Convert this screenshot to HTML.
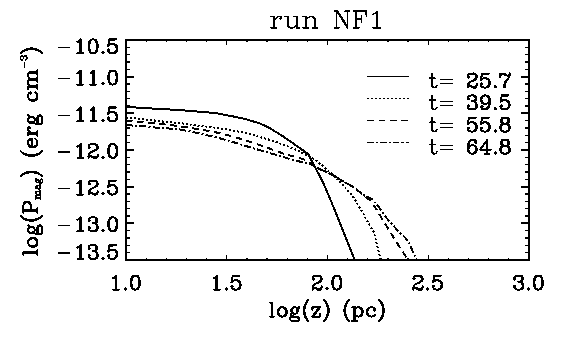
<!DOCTYPE html>
<html><head><meta charset="utf-8"><title>run NF1</title>
<style>html,body{margin:0;padding:0;background:#fff;font-family:"Liberation Sans",sans-serif}svg{display:block}</style>
</head><body>
<svg width="566" height="340" viewBox="0 0 566 340">
<rect x="0" y="0" width="566" height="340" fill="#fff"/>
<rect x="126.0" y="40.0" width="403.0" height="220.0" fill="none" stroke="#000" stroke-width="2.0" shape-rendering="crispEdges"/>
<path d="M146.15 260.0V258.00M146.15 40.0V42.00M166.30 260.0V258.00M166.30 40.0V42.00M186.45 260.0V258.00M186.45 40.0V42.00M206.60 260.0V258.00M206.60 40.0V42.00M226.75 260.0V255.00M226.75 40.0V45.00M246.90 260.0V258.00M246.90 40.0V42.00M267.05 260.0V258.00M267.05 40.0V42.00M287.20 260.0V258.00M287.20 40.0V42.00M307.35 260.0V258.00M307.35 40.0V42.00M327.50 260.0V255.00M327.50 40.0V45.00M347.65 260.0V258.00M347.65 40.0V42.00M367.80 260.0V258.00M367.80 40.0V42.00M387.95 260.0V258.00M387.95 40.0V42.00M408.10 260.0V258.00M408.10 40.0V42.00M428.25 260.0V255.00M428.25 40.0V45.00M448.40 260.0V258.00M448.40 40.0V42.00M468.55 260.0V258.00M468.55 40.0V42.00M488.70 260.0V258.00M488.70 40.0V42.00M508.85 260.0V258.00M508.85 40.0V42.00" stroke="#000" stroke-width="1.25" fill="none" shape-rendering="crispEdges"/>
<path d="M126.0 76.67H134.00M529.0 76.67H521.00M126.0 113.33H134.00M529.0 113.33H521.00M126.0 150.00H134.00M529.0 150.00H521.00M126.0 186.67H134.00M529.0 186.67H521.00M126.0 223.33H134.00M529.0 223.33H521.00" stroke="#000" stroke-width="2.0" fill="none" shape-rendering="crispEdges"/>
<path d="M126.0 47.33H130.00M529.0 47.33H525.00M126.0 54.67H130.00M529.0 54.67H525.00M126.0 62.00H130.00M529.0 62.00H525.00M126.0 69.33H130.00M529.0 69.33H525.00M126.0 84.00H130.00M529.0 84.00H525.00M126.0 91.33H130.00M529.0 91.33H525.00M126.0 98.67H130.00M529.0 98.67H525.00M126.0 106.00H130.00M529.0 106.00H525.00M126.0 120.67H130.00M529.0 120.67H525.00M126.0 128.00H130.00M529.0 128.00H525.00M126.0 135.33H130.00M529.0 135.33H525.00M126.0 142.67H130.00M529.0 142.67H525.00M126.0 157.33H130.00M529.0 157.33H525.00M126.0 164.67H130.00M529.0 164.67H525.00M126.0 172.00H130.00M529.0 172.00H525.00M126.0 179.33H130.00M529.0 179.33H525.00M126.0 194.00H130.00M529.0 194.00H525.00M126.0 201.33H130.00M529.0 201.33H525.00M126.0 208.67H130.00M529.0 208.67H525.00M126.0 216.00H130.00M529.0 216.00H525.00M126.0 230.67H130.00M529.0 230.67H525.00M126.0 238.00H130.00M529.0 238.00H525.00M126.0 245.33H130.00M529.0 245.33H525.00M126.0 252.67H130.00M529.0 252.67H525.00" stroke="#000" stroke-width="1.3" fill="none" shape-rendering="crispEdges"/>
<clipPath id="c"><rect x="126.0" y="40.0" width="403.0" height="220.0"/></clipPath>
<g clip-path="url(#c)" fill="none" stroke="#000" stroke-width="2.0" stroke-linejoin="round" shape-rendering="crispEdges">
<path d="M126.0 106.9L151.8 108.5L180.0 110.1L200.0 111.8L215.0 113.0L230.0 115.8L245.0 118.9L260.0 123.5L267.6 126.9L282.4 135.9L298.3 147.0L303.2 150.5L308.5 154.1L311.8 161.0L314.8 166.4L320.0 176.7L324.4 185.5L330.6 200.0L354.8 260.0"/>
<path d="M126.0 117.5L130.0 117.8L149.7 119.9L165.6 121.9L180.0 123.1L200.0 125.9L210.0 127.0L230.0 129.8L245.0 133.0L255.9 135.9L270.7 140.1L285.6 145.4L297.2 150.2L310.6 157.0L317.0 161.1L323.3 166.4L328.6 171.2L335.0 176.8L340.7 183.0L346.0 188.5L351.8 194.7L355.9 201.4L362.3 212.0L366.0 218.9L370.1 225.9L373.9 232.3L375.6 239.5L377.7 248.0L380.4 258.1L380.9 260.0" stroke-dasharray="2 2"/>
<path d="M126.0 120.7L140.1 121.9L150.7 122.8L162.4 124.2L174.4 125.6L190.0 127.8L207.0 130.6L219.0 133.0L229.0 135.5L241.6 139.1L251.1 142.3L261.7 145.8L272.3 149.5L283.4 153.6L293.8 156.5L304.5 159.6L314.8 166.4L320.1 169.4L325.4 171.4L335.5 176.6L342.3 180.9L352.9 186.7L363.7 195.2L370.7 200.9L377.6 211.2L382.9 220.3L389.5 230.8L395.6 240.7L401.6 250.1L406.9 258.1L408.2 260.0" stroke-dasharray="6.5 4.6"/>
<path d="M126.0 125.2L141.2 126.0L153.9 127.4L167.7 128.4L180.7 129.6L192.0 131.8L205.0 134.7L217.0 137.6L229.0 140.8L242.1 144.9L253.8 148.4L265.4 151.8L278.2 155.5L290.6 159.2L302.8 162.4L309.7 164.0L314.8 166.4L320.1 169.4L325.4 171.4L335.5 176.6L342.3 180.9L352.9 186.7L363.7 195.2L371.8 198.8L378.2 206.2L382.4 212.3L386.0 217.4L394.0 226.4L398.8 231.7L404.0 236.5L407.9 240.6L410.6 246.4L413.2 252.3L415.9 258.1L416.8 260.0" stroke-dasharray="7 2.2 2 2.2"/>
</g>
<g fill="none" stroke="#000" stroke-width="1" shape-rendering="crispEdges">
<path d="M367 76.5H409"/>
<path d="M367 98.5H409" stroke-dasharray="2 2"/>
<path d="M367 120.5H374M379 120.5H385M390 120.5H397M401 120.5H408"/>
<path d="M367 142.5H374M376 142.5H378M380 142.5H387M389 142.5H391M393 142.5H399M401 142.5H403.5M405.5 142.5H409"/>
</g>
<path d="M113.06 278.30L114.36 277.63L116.33 275.64L116.33 289.60M115.67 276.30L115.67 289.60M113.06 289.60L118.95 289.60M125.50 288.27L124.84 288.94L125.50 289.60L126.16 288.94L125.50 288.27M134.67 275.64L132.71 276.30L131.40 278.30L130.74 281.62L130.74 283.62L131.40 286.94L132.71 288.94L134.67 289.60L135.98 289.60L137.94 288.94L139.25 286.94L139.91 283.62L139.91 281.62L139.25 278.30L137.94 276.30L135.98 275.64L134.67 275.64M134.67 275.64L133.36 276.30L132.71 276.97L132.05 278.30L131.40 281.62L131.40 283.62L132.05 286.94L132.71 288.27L133.36 288.94L134.67 289.60M135.98 289.60L137.29 288.94L137.94 288.27L138.60 286.94L139.25 283.62L139.25 281.62L138.60 278.30L137.94 276.97L137.29 276.30L135.98 275.64M213.81 278.30L215.12 277.63L217.08 275.64L217.08 289.60M216.43 276.30L216.43 289.60M213.81 289.60L219.70 289.60M226.25 288.27L225.59 288.94L226.25 289.60L226.91 288.94L226.25 288.27M232.80 275.64L231.49 282.29M231.49 282.29L232.80 280.96L234.77 280.29L236.73 280.29L238.69 280.96L240 282.29L240.66 284.28L240.66 285.61L240 287.61L238.69 288.94L236.73 289.60L234.77 289.60L232.80 288.94L232.15 288.27L231.49 286.94L231.49 286.28L232.15 285.61L232.80 286.28L232.15 286.94M236.73 280.29L238.04 280.96L239.35 282.29L240 284.28L240 285.61L239.35 287.61L238.04 288.94L236.73 289.60M232.80 275.64L239.35 275.64M232.80 276.30L236.07 276.30L239.35 275.64M313.25 278.30L313.90 278.96L313.25 279.62L312.59 278.96L312.59 278.30L313.25 276.97L313.90 276.30L315.87 275.64L318.49 275.64L320.45 276.30L321.11 276.97L321.76 278.30L321.76 279.62L321.11 280.96L319.14 282.29L315.87 283.62L314.56 284.28L313.25 285.61L312.59 287.61L312.59 289.60M318.49 275.64L319.80 276.30L320.45 276.97L321.11 278.30L321.11 279.62L320.45 280.96L318.49 282.29L315.87 283.62M312.59 288.27L313.25 287.61L314.56 287.61L317.83 288.94L319.80 288.94L321.11 288.27L321.76 287.61M314.56 287.61L317.83 289.60L320.45 289.60L321.11 288.94L321.76 287.61L321.76 286.28M327 288.27L326.35 288.94L327 289.60L327.66 288.94L327 288.27M336.17 275.64L334.20 276.30L332.89 278.30L332.24 281.62L332.24 283.62L332.89 286.94L334.20 288.94L336.17 289.60L337.48 289.60L339.44 288.94L340.75 286.94L341.41 283.62L341.41 281.62L340.75 278.30L339.44 276.30L337.48 275.64L336.17 275.64M336.17 275.64L334.86 276.30L334.20 276.97L333.55 278.30L332.89 281.62L332.89 283.62L333.55 286.94L334.20 288.27L334.86 288.94L336.17 289.60M337.48 289.60L338.79 288.94L339.44 288.27L340.10 286.94L340.75 283.62L340.75 281.62L340.10 278.30L339.44 276.97L338.79 276.30L337.48 275.64M414 278.30L414.65 278.96L414 279.62L413.34 278.96L413.34 278.30L414 276.97L414.65 276.30L416.62 275.64L419.24 275.64L421.20 276.30L421.86 276.97L422.51 278.30L422.51 279.62L421.86 280.96L419.89 282.29L416.62 283.62L415.31 284.28L414 285.61L413.34 287.61L413.34 289.60M419.24 275.64L420.55 276.30L421.20 276.97L421.86 278.30L421.86 279.62L421.20 280.96L419.24 282.29L416.62 283.62M413.34 288.27L414 287.61L415.31 287.61L418.58 288.94L420.55 288.94L421.86 288.27L422.51 287.61M415.31 287.61L418.58 289.60L421.20 289.60L421.86 288.94L422.51 287.61L422.51 286.28M427.75 288.27L427.10 288.94L427.75 289.60L428.41 288.94L427.75 288.27M434.30 275.64L432.99 282.29M432.99 282.29L434.30 280.96L436.26 280.29L438.23 280.29L440.19 280.96L441.50 282.29L442.16 284.28L442.16 285.61L441.50 287.61L440.19 288.94L438.23 289.60L436.26 289.60L434.30 288.94L433.64 288.27L432.99 286.94L432.99 286.28L433.64 285.61L434.30 286.28L433.64 286.94M438.23 280.29L439.54 280.96L440.85 282.29L441.50 284.28L441.50 285.61L440.85 287.61L439.54 288.94L438.23 289.60M434.30 275.64L440.85 275.64M434.30 276.30L437.57 276.30L440.85 275.64M514.75 278.30L515.40 278.96L514.75 279.62L514.09 278.96L514.09 278.30L514.75 276.97L515.40 276.30L517.37 275.64L519.99 275.64L521.95 276.30L522.61 277.63L522.61 279.62L521.95 280.96L519.99 281.62L518.02 281.62M519.99 275.64L521.29 276.30L521.95 277.63L521.95 279.62L521.29 280.96L519.99 281.62M519.99 281.62L521.29 282.29L522.61 283.62L523.26 284.95L523.26 286.94L522.61 288.27L521.95 288.94L519.99 289.60L517.37 289.60L515.40 288.94L514.75 288.27L514.09 286.94L514.09 286.28L514.75 285.61L515.40 286.28L514.75 286.94M521.95 282.95L522.61 284.95L522.61 286.94L521.95 288.27L521.29 288.94L519.99 289.60M528.50 288.27L527.85 288.94L528.50 289.60L529.15 288.94L528.50 288.27M537.67 275.64L535.71 276.30L534.39 278.30L533.74 281.62L533.74 283.62L534.39 286.94L535.71 288.94L537.67 289.60L538.98 289.60L540.95 288.94L542.25 286.94L542.91 283.62L542.91 281.62L542.25 278.30L540.95 276.30L538.98 275.64L537.67 275.64M537.67 275.64L536.36 276.30L535.71 276.97L535.05 278.30L534.39 281.62L534.39 283.62L535.05 286.94L535.71 288.27L536.36 288.94L537.67 289.60M538.98 289.60L540.29 288.94L540.95 288.27L541.60 286.94L542.25 283.62L542.25 281.62L541.60 278.30L540.95 276.97L540.29 276.30L538.98 275.64M77.38 41.99L78.69 41.33L80.66 39.33L80.66 53.30M80 40L80 53.30M77.38 53.30L83.28 53.30M92.44 39.33L90.48 40L89.17 41.99L88.52 45.32L88.52 47.31L89.17 50.64L90.48 52.63L92.44 53.30L93.75 53.30L95.72 52.63L97.03 50.64L97.69 47.31L97.69 45.32L97.03 41.99L95.72 40L93.75 39.33L92.44 39.33M92.44 39.33L91.13 40L90.48 40.66L89.82 41.99L89.17 45.32L89.17 47.31L89.82 50.64L90.48 51.97L91.13 52.63L92.44 53.30M93.75 53.30L95.06 52.63L95.72 51.97L96.38 50.64L97.03 47.31L97.03 45.32L96.38 41.99L95.72 40.66L95.06 40L93.75 39.33M102.92 51.97L102.27 52.63L102.92 53.30L103.58 52.63L102.92 51.97M109.47 39.33L108.16 45.98M108.16 45.98L109.47 44.66L111.44 43.99L113.41 43.99L115.37 44.66L116.68 45.98L117.33 47.98L117.33 49.31L116.68 51.30L115.37 52.63L113.41 53.30L111.44 53.30L109.47 52.63L108.82 51.97L108.16 50.64L108.16 49.97L108.82 49.31L109.47 49.97L108.82 50.64M113.41 43.99L114.72 44.66L116.03 45.98L116.68 47.98L116.68 49.31L116.03 51.30L114.72 52.63L113.41 53.30M109.47 39.33L116.03 39.33M109.47 40L112.75 40L116.03 39.33M77.38 73.19L78.69 72.53L80.66 70.53L80.66 84.50M80 71.20L80 84.50M77.38 84.50L83.28 84.50M90.48 73.19L91.79 72.53L93.75 70.53L93.75 84.50M93.10 71.20L93.10 84.50M90.48 84.50L96.38 84.50M102.92 83.17L102.27 83.83L102.92 84.50L103.58 83.83L102.92 83.17M112.09 70.53L110.13 71.20L108.82 73.19L108.16 76.52L108.16 78.52L108.82 81.84L110.13 83.83L112.09 84.50L113.41 84.50L115.37 83.83L116.68 81.84L117.33 78.52L117.33 76.52L116.68 73.19L115.37 71.20L113.41 70.53L112.09 70.53M112.09 70.53L110.78 71.20L110.13 71.86L109.47 73.19L108.82 76.52L108.82 78.52L109.47 81.84L110.13 83.17L110.78 83.83L112.09 84.50M113.41 84.50L114.72 83.83L115.37 83.17L116.03 81.84L116.68 78.52L116.68 76.52L116.03 73.19L115.37 71.86L114.72 71.20L113.41 70.53M77.38 110.09L78.69 109.43L80.66 107.44L80.66 121.40M80 108.10L80 121.40M77.38 121.40L83.28 121.40M90.48 110.09L91.79 109.43L93.75 107.44L93.75 121.40M93.10 108.10L93.10 121.40M90.48 121.40L96.38 121.40M102.92 120.07L102.27 120.73L102.92 121.40L103.58 120.73L102.92 120.07M109.47 107.44L108.16 114.09M108.16 114.09L109.47 112.76L111.44 112.09L113.41 112.09L115.37 112.76L116.68 114.09L117.33 116.08L117.33 117.41L116.68 119.41L115.37 120.73L113.41 121.40L111.44 121.40L109.47 120.73L108.82 120.07L108.16 118.74L108.16 118.08L108.82 117.41L109.47 118.08L108.82 118.74M113.41 112.09L114.72 112.76L116.03 114.09L116.68 116.08L116.68 117.41L116.03 119.41L114.72 120.73L113.41 121.40M109.47 107.44L116.03 107.44M109.47 108.10L112.75 108.10L116.03 107.44M77.38 146.59L78.69 145.93L80.66 143.94L80.66 157.90M80 144.60L80 157.90M77.38 157.90L83.28 157.90M89.17 146.59L89.82 147.26L89.17 147.93L88.52 147.26L88.52 146.59L89.17 145.27L89.82 144.60L91.79 143.94L94.41 143.94L96.38 144.60L97.03 145.27L97.69 146.59L97.69 147.93L97.03 149.25L95.06 150.59L91.79 151.91L90.48 152.58L89.17 153.91L88.52 155.91L88.52 157.90M94.41 143.94L95.72 144.60L96.38 145.27L97.03 146.59L97.03 147.93L96.38 149.25L94.41 150.59L91.79 151.91M88.52 156.57L89.17 155.91L90.48 155.91L93.75 157.24L95.72 157.24L97.03 156.57L97.69 155.91M90.48 155.91L93.75 157.90L96.38 157.90L97.03 157.24L97.69 155.91L97.69 154.58M102.92 156.57L102.27 157.24L102.92 157.90L103.58 157.24L102.92 156.57M112.09 143.94L110.13 144.60L108.82 146.59L108.16 149.92L108.16 151.91L108.82 155.24L110.13 157.24L112.09 157.90L113.41 157.90L115.37 157.24L116.68 155.24L117.33 151.91L117.33 149.92L116.68 146.59L115.37 144.60L113.41 143.94L112.09 143.94M112.09 143.94L110.78 144.60L110.13 145.27L109.47 146.59L108.82 149.92L108.82 151.91L109.47 155.24L110.13 156.57L110.78 157.24L112.09 157.90M113.41 157.90L114.72 157.24L115.37 156.57L116.03 155.24L116.68 151.91L116.68 149.92L116.03 146.59L115.37 145.27L114.72 144.60L113.41 143.94M77.38 183.19L78.69 182.53L80.66 180.53L80.66 194.50M80 181.20L80 194.50M77.38 194.50L83.28 194.50M89.17 183.19L89.82 183.86L89.17 184.53L88.52 183.86L88.52 183.19L89.17 181.87L89.82 181.20L91.79 180.53L94.41 180.53L96.38 181.20L97.03 181.87L97.69 183.19L97.69 184.53L97.03 185.85L95.06 187.19L91.79 188.51L90.48 189.18L89.17 190.51L88.52 192.50L88.52 194.50M94.41 180.53L95.72 181.20L96.38 181.87L97.03 183.19L97.03 184.53L96.38 185.85L94.41 187.19L91.79 188.51M88.52 193.17L89.17 192.50L90.48 192.50L93.75 193.84L95.72 193.84L97.03 193.17L97.69 192.50M90.48 192.50L93.75 194.50L96.38 194.50L97.03 193.84L97.69 192.50L97.69 191.18M102.92 193.17L102.27 193.84L102.92 194.50L103.58 193.84L102.92 193.17M109.47 180.53L108.16 187.19M108.16 187.19L109.47 185.85L111.44 185.19L113.41 185.19L115.37 185.85L116.68 187.19L117.33 189.18L117.33 190.51L116.68 192.50L115.37 193.84L113.41 194.50L111.44 194.50L109.47 193.84L108.82 193.17L108.16 191.84L108.16 191.18L108.82 190.51L109.47 191.18L108.82 191.84M113.41 185.19L114.72 185.85L116.03 187.19L116.68 189.18L116.68 190.51L116.03 192.50L114.72 193.84L113.41 194.50M109.47 180.53L116.03 180.53M109.47 181.20L112.75 181.20L116.03 180.53M77.38 219.89L78.69 219.23L80.66 217.23L80.66 231.20M80 217.90L80 231.20M77.38 231.20L83.28 231.20M89.17 219.89L89.82 220.56L89.17 221.22L88.52 220.56L88.52 219.89L89.17 218.56L89.82 217.90L91.79 217.23L94.41 217.23L96.38 217.90L97.03 219.23L97.03 221.22L96.38 222.55L94.41 223.22L92.44 223.22M94.41 217.23L95.72 217.90L96.38 219.23L96.38 221.22L95.72 222.55L94.41 223.22M94.41 223.22L95.72 223.88L97.03 225.21L97.69 226.54L97.69 228.54L97.03 229.87L96.38 230.53L94.41 231.20L91.79 231.20L89.82 230.53L89.17 229.87L88.52 228.54L88.52 227.88L89.17 227.21L89.82 227.88L89.17 228.54M96.38 224.55L97.03 226.54L97.03 228.54L96.38 229.87L95.72 230.53L94.41 231.20M102.92 229.87L102.27 230.53L102.92 231.20L103.58 230.53L102.92 229.87M112.09 217.23L110.13 217.90L108.82 219.89L108.16 223.22L108.16 225.21L108.82 228.54L110.13 230.53L112.09 231.20L113.41 231.20L115.37 230.53L116.68 228.54L117.33 225.21L117.33 223.22L116.68 219.89L115.37 217.90L113.41 217.23L112.09 217.23M112.09 217.23L110.78 217.90L110.13 218.56L109.47 219.89L108.82 223.22L108.82 225.21L109.47 228.54L110.13 229.87L110.78 230.53L112.09 231.20M113.41 231.20L114.72 230.53L115.37 229.87L116.03 228.54L116.68 225.21L116.68 223.22L116.03 219.89L115.37 218.56L114.72 217.90L113.41 217.23M77.38 247.59L78.69 246.93L80.66 244.93L80.66 258.90M80 245.60L80 258.90M77.38 258.90L83.28 258.90M89.17 247.59L89.82 248.26L89.17 248.92L88.52 248.26L88.52 247.59L89.17 246.26L89.82 245.60L91.79 244.93L94.41 244.93L96.38 245.60L97.03 246.93L97.03 248.92L96.38 250.25L94.41 250.92L92.44 250.92M94.41 244.93L95.72 245.60L96.38 246.93L96.38 248.92L95.72 250.25L94.41 250.92M94.41 250.92L95.72 251.58L97.03 252.91L97.69 254.24L97.69 256.24L97.03 257.57L96.38 258.23L94.41 258.90L91.79 258.90L89.82 258.23L89.17 257.57L88.52 256.24L88.52 255.57L89.17 254.91L89.82 255.57L89.17 256.24M96.38 252.25L97.03 254.24L97.03 256.24L96.38 257.57L95.72 258.23L94.41 258.90M102.92 257.57L102.27 258.23L102.92 258.90L103.58 258.23L102.92 257.57M109.47 244.93L108.16 251.58M108.16 251.58L109.47 250.25L111.44 249.59L113.41 249.59L115.37 250.25L116.68 251.58L117.33 253.58L117.33 254.91L116.68 256.90L115.37 258.23L113.41 258.90L111.44 258.90L109.47 258.23L108.82 257.57L108.16 256.24L108.16 255.57L108.82 254.91L109.47 255.57L108.82 256.24M113.41 249.59L114.72 250.25L116.03 251.58L116.68 253.58L116.68 254.91L116.03 256.90L114.72 258.23L113.41 258.90M109.47 244.93L116.03 244.93M109.47 245.60L112.75 245.60L116.03 244.93M271.72 302.54L271.72 316.50M272.38 302.54L272.38 316.50M269.76 302.54L272.38 302.54M269.76 316.50L274.34 316.50M281.55 307.19L279.58 307.86L278.27 309.19L277.62 311.18L277.62 312.51L278.27 314.50L279.58 315.83L281.55 316.50L282.86 316.50L284.82 315.83L286.13 314.50L286.79 312.51L286.79 311.18L286.13 309.19L284.82 307.86L282.86 307.19L281.55 307.19M281.55 307.19L280.24 307.86L278.93 309.19L278.27 311.18L278.27 312.51L278.93 314.50L280.24 315.83L281.55 316.50M282.86 316.50L284.17 315.83L285.48 314.50L286.13 312.51L286.13 311.18L285.48 309.19L284.17 307.86L282.86 307.19M294 307.19L292.68 307.86L292.03 308.52L291.38 309.85L291.38 311.18L292.03 312.51L292.68 313.18L294 313.84L295.30 313.84L296.61 313.18L297.27 312.51L297.92 311.18L297.92 309.85L297.27 308.52L296.61 307.86L295.30 307.19L294 307.19M292.68 307.86L292.03 309.19L292.03 311.85L292.68 313.18M296.61 313.18L297.27 311.85L297.27 309.19L296.61 307.86M297.27 308.52L297.92 307.86L299.23 307.19L299.23 307.86L297.92 307.86M292.03 312.51L291.38 313.18L290.72 314.50L290.72 315.17L291.38 316.50L293.34 317.17L296.61 317.17L298.58 317.83L299.23 318.50M290.72 315.17L291.38 315.83L293.34 316.50L296.61 316.50L298.58 317.17L299.23 318.50L299.23 319.16L298.58 320.49L296.61 321.15L292.68 321.15L290.72 320.49L290.06 319.16L290.06 318.50L290.72 317.17L292.68 316.50M308.40 299.88L307.09 301.20L305.78 303.20L304.47 305.86L303.82 309.19L303.82 311.85L304.47 315.17L305.78 317.83L307.09 319.82L308.40 321.15M307.09 301.20L305.78 303.87L305.13 305.86L304.47 309.19L304.47 311.85L305.13 315.17L305.78 317.17L307.09 319.82M319.54 307.19L312.33 316.50M320.19 307.19L312.99 316.50M312.99 307.19L312.33 309.85L312.33 307.19L320.19 307.19M312.33 316.50L320.19 316.50L320.19 313.84L319.54 316.50M324.12 299.88L325.44 301.20L326.75 303.20L328.05 305.86L328.71 309.19L328.71 311.85L328.05 315.17L326.75 317.83L325.44 319.82L324.12 321.15M325.44 301.20L326.75 303.87L327.40 305.86L328.05 309.19L328.05 311.85L327.40 315.17L326.75 317.17L325.44 319.82M349.01 299.88L347.70 301.20L346.39 303.20L345.08 305.86L344.43 309.19L344.43 311.85L345.08 315.17L346.39 317.83L347.70 319.82L349.01 321.15M347.70 301.20L346.39 303.87L345.74 305.86L345.08 309.19L345.08 311.85L345.74 315.17L346.39 317.17L347.70 319.82M354.25 307.19L354.25 321.15M354.91 307.19L354.91 321.15M354.91 309.19L356.22 307.86L357.53 307.19L358.84 307.19L360.80 307.86L362.11 309.19L362.77 311.18L362.77 312.51L362.11 314.50L360.80 315.83L358.84 316.50L357.53 316.50L356.22 315.83L354.91 314.50M358.84 307.19L360.15 307.86L361.46 309.19L362.11 311.18L362.11 312.51L361.46 314.50L360.15 315.83L358.84 316.50M352.29 307.19L354.91 307.19M352.29 321.15L356.88 321.15M374.56 309.19L373.90 309.85L374.56 310.51L375.21 309.85L375.21 309.19L373.90 307.86L372.59 307.19L370.63 307.19L368.66 307.86L367.35 309.19L366.70 311.18L366.70 312.51L367.35 314.50L368.66 315.83L370.63 316.50L371.94 316.50L373.90 315.83L375.21 314.50M370.63 307.19L369.32 307.86L368.01 309.19L367.35 311.18L367.35 312.51L368.01 314.50L369.32 315.83L370.63 316.50M379.14 299.88L380.45 301.20L381.76 303.20L383.07 305.86L383.73 309.19L383.73 311.85L383.07 315.17L381.76 317.83L380.45 319.82L379.14 321.15M380.45 301.20L381.76 303.87L382.42 305.86L383.07 309.19L383.07 311.85L382.42 315.17L381.76 317.17L380.45 319.82M468.35 76.19L469.01 76.86L468.35 77.53L467.70 76.86L467.70 76.19L468.35 74.86L469.01 74.20L470.97 73.53L473.59 73.53L475.56 74.20L476.21 74.86L476.87 76.19L476.87 77.53L476.21 78.86L474.25 80.19L470.97 81.52L469.66 82.18L468.35 83.51L467.70 85.50L467.70 87.50M473.59 73.53L474.90 74.20L475.56 74.86L476.21 76.19L476.21 77.53L475.56 78.86L473.59 80.19L470.97 81.52M467.70 86.17L468.35 85.50L469.66 85.50L472.94 86.83L474.90 86.83L476.21 86.17L476.87 85.50M469.66 85.50L472.94 87.50L475.56 87.50L476.21 86.83L476.87 85.50L476.87 84.17M482.11 73.53L480.80 80.19M480.80 80.19L482.11 78.86L484.07 78.19L486.04 78.19L488 78.86L489.31 80.19L489.97 82.18L489.97 83.51L489.31 85.50L488 86.83L486.04 87.50L484.07 87.50L482.11 86.83L481.45 86.17L480.80 84.84L480.80 84.17L481.45 83.51L482.11 84.17L481.45 84.84M486.04 78.19L487.35 78.86L488.66 80.19L489.31 82.18L489.31 83.51L488.66 85.50L487.35 86.83L486.04 87.50M482.11 73.53L488.66 73.53M482.11 74.20L485.38 74.20L488.66 73.53M495.21 86.17L494.56 86.83L495.21 87.50L495.87 86.83L495.21 86.17M500.45 73.53L500.45 77.53M500.45 76.19L501.11 74.86L502.41 73.53L503.72 73.53L507 75.53L508.31 75.53L508.96 74.86L509.62 73.53M501.11 74.86L502.41 74.20L503.72 74.20L507 75.53M509.62 73.53L509.62 75.53L508.96 77.53L506.34 80.85L505.69 82.18L505.03 84.17L505.03 87.50M508.96 77.53L505.69 80.85L505.03 82.18L504.38 84.17L504.38 87.50M468.35 98.09L469.01 98.76L468.35 99.43L467.70 98.76L467.70 98.09L468.35 96.77L469.01 96.10L470.97 95.44L473.59 95.44L475.56 96.10L476.21 97.43L476.21 99.43L475.56 100.76L473.59 101.42L471.63 101.42M473.59 95.44L474.90 96.10L475.56 97.43L475.56 99.43L474.90 100.76L473.59 101.42M473.59 101.42L474.90 102.09L476.21 103.42L476.87 104.75L476.87 106.74L476.21 108.07L475.56 108.73L473.59 109.40L470.97 109.40L469.01 108.73L468.35 108.07L467.70 106.74L467.70 106.08L468.35 105.41L469.01 106.08L468.35 106.74M475.56 102.75L476.21 104.75L476.21 106.74L475.56 108.07L474.90 108.73L473.59 109.40M489.31 100.09L488.66 102.09L487.35 103.42L485.38 104.08L484.73 104.08L482.76 103.42L481.45 102.09L480.80 100.09L480.80 99.43L481.45 97.43L482.76 96.10L484.73 95.44L486.04 95.44L488 96.10L489.31 97.43L489.97 99.43L489.97 103.42L489.31 106.08L488.66 107.41L487.35 108.73L485.38 109.40L483.42 109.40L482.11 108.73L481.45 107.41L481.45 106.74L482.11 106.08L482.76 106.74L482.11 107.41M484.73 104.08L483.42 103.42L482.11 102.09L481.45 100.09L481.45 99.43L482.11 97.43L483.42 96.10L484.73 95.44M486.04 95.44L487.35 96.10L488.66 97.43L489.31 99.43L489.31 103.42L488.66 106.08L488 107.41L486.69 108.73L485.38 109.40M495.21 108.07L494.56 108.73L495.21 109.40L495.87 108.73L495.21 108.07M501.76 95.44L500.45 102.09M500.45 102.09L501.76 100.76L503.72 100.09L505.69 100.09L507.65 100.76L508.96 102.09L509.62 104.08L509.62 105.41L508.96 107.41L507.65 108.73L505.69 109.40L503.72 109.40L501.76 108.73L501.11 108.07L500.45 106.74L500.45 106.08L501.11 105.41L501.76 106.08L501.11 106.74M505.69 100.09L507 100.76L508.31 102.09L508.96 104.08L508.96 105.41L508.31 107.41L507 108.73L505.69 109.40M501.76 95.44L508.31 95.44M501.76 96.10L505.03 96.10L508.31 95.44M469.01 117.63L467.70 124.28M467.70 124.28L469.01 122.95L470.97 122.29L472.94 122.29L474.90 122.95L476.21 124.28L476.87 126.28L476.87 127.61L476.21 129.60L474.90 130.94L472.94 131.60L470.97 131.60L469.01 130.94L468.35 130.27L467.70 128.94L467.70 128.28L468.35 127.61L469.01 128.28L468.35 128.94M472.94 122.29L474.25 122.95L475.56 124.28L476.21 126.28L476.21 127.61L475.56 129.60L474.25 130.94L472.94 131.60M469.01 117.63L475.56 117.63M469.01 118.30L472.28 118.30L475.56 117.63M482.11 117.63L480.80 124.28M480.80 124.28L482.11 122.95L484.07 122.29L486.04 122.29L488 122.95L489.31 124.28L489.97 126.28L489.97 127.61L489.31 129.60L488 130.94L486.04 131.60L484.07 131.60L482.11 130.94L481.45 130.27L480.80 128.94L480.80 128.28L481.45 127.61L482.11 128.28L481.45 128.94M486.04 122.29L487.35 122.95L488.66 124.28L489.31 126.28L489.31 127.61L488.66 129.60L487.35 130.94L486.04 131.60M482.11 117.63L488.66 117.63M482.11 118.30L485.38 118.30L488.66 117.63M495.21 130.27L494.56 130.94L495.21 131.60L495.87 130.94L495.21 130.27M503.72 117.63L501.76 118.30L501.11 119.63L501.11 121.62L501.76 122.95L503.72 123.62L506.34 123.62L508.31 122.95L508.96 121.62L508.96 119.63L508.31 118.30L506.34 117.63L503.72 117.63M503.72 117.63L502.41 118.30L501.76 119.63L501.76 121.62L502.41 122.95L503.72 123.62M506.34 123.62L507.65 122.95L508.31 121.62L508.31 119.63L507.65 118.30L506.34 117.63M503.72 123.62L501.76 124.28L501.11 124.95L500.45 126.28L500.45 128.94L501.11 130.27L501.76 130.94L503.72 131.60L506.34 131.60L508.31 130.94L508.96 130.27L509.62 128.94L509.62 126.28L508.96 124.95L508.31 124.28L506.34 123.62M503.72 123.62L502.41 124.28L501.76 124.95L501.11 126.28L501.11 128.94L501.76 130.27L502.41 130.94L503.72 131.60M506.34 131.60L507.65 130.94L508.31 130.27L508.96 128.94L508.96 126.28L508.31 124.95L507.65 124.28L506.34 123.62M475.56 141.73L474.90 142.39L475.56 143.06L476.21 142.39L476.21 141.73L475.56 140.40L474.25 139.73L472.28 139.73L470.32 140.40L469.01 141.73L468.35 143.06L467.70 145.72L467.70 149.71L468.35 151.70L469.66 153.03L471.63 153.70L472.94 153.70L474.90 153.03L476.21 151.70L476.87 149.71L476.87 149.04L476.21 147.05L474.90 145.72L472.94 145.05L472.28 145.05L470.32 145.72L469.01 147.05L468.35 149.04M472.28 139.73L470.97 140.40L469.66 141.73L469.01 143.06L468.35 145.72L468.35 149.71L469.01 151.70L470.32 153.03L471.63 153.70M472.94 153.70L474.25 153.03L475.56 151.70L476.21 149.71L476.21 149.04L475.56 147.05L474.25 145.72L472.94 145.05M486.69 141.06L486.69 153.70M487.35 139.73L487.35 153.70M487.35 139.73L480.14 149.71L490.62 149.71M484.73 153.70L489.31 153.70M495.21 152.37L494.56 153.03L495.21 153.70L495.87 153.03L495.21 152.37M503.72 139.73L501.76 140.40L501.11 141.73L501.11 143.72L501.76 145.05L503.72 145.72L506.34 145.72L508.31 145.05L508.96 143.72L508.96 141.73L508.31 140.40L506.34 139.73L503.72 139.73M503.72 139.73L502.41 140.40L501.76 141.73L501.76 143.72L502.41 145.05L503.72 145.72M506.34 145.72L507.65 145.05L508.31 143.72L508.31 141.73L507.65 140.40L506.34 139.73M503.72 145.72L501.76 146.38L501.11 147.05L500.45 148.38L500.45 151.04L501.11 152.37L501.76 153.03L503.72 153.70L506.34 153.70L508.31 153.03L508.96 152.37L509.62 151.04L509.62 148.38L508.96 147.05L508.31 146.38L506.34 145.72M503.72 145.72L502.41 146.38L501.76 147.05L501.11 148.38L501.11 151.04L501.76 152.37L502.41 153.03L503.72 153.70M506.34 153.70L507.65 153.03L508.31 152.37L508.96 151.04L508.96 148.38L508.31 147.05L507.65 146.38L506.34 145.72M23.43 252.81L37.40 252.81M23.43 252.15L37.40 252.15M23.43 254.77L23.43 252.15M37.40 254.77L37.40 250.19M28.09 242.98L28.75 244.95L30.08 246.26L32.08 246.91L33.41 246.91L35.41 246.26L36.73 244.95L37.40 242.98L37.40 241.67L36.73 239.71L35.41 238.40L33.41 237.74L32.08 237.74L30.08 238.40L28.75 239.71L28.09 241.67L28.09 242.98M28.09 242.98L28.75 244.29L30.08 245.60L32.08 246.26L33.41 246.26L35.41 245.60L36.73 244.29L37.40 242.98M37.40 241.67L36.73 240.36L35.41 239.05L33.41 238.40L32.08 238.40L30.08 239.05L28.75 240.36L28.09 241.67M28.09 230.54L28.75 231.85L29.42 232.50L30.75 233.16L32.08 233.16L33.41 232.50L34.07 231.85L34.74 230.54L34.74 229.23L34.07 227.92L33.41 227.26L32.08 226.61L30.75 226.61L29.42 227.26L28.75 227.92L28.09 229.23L28.09 230.54M28.75 231.85L30.08 232.50L32.74 232.50L34.07 231.85M34.07 227.92L32.74 227.26L30.08 227.26L28.75 227.92M29.42 227.26L28.75 226.61L28.09 225.30L28.75 225.30L28.75 226.61M33.41 232.50L34.07 233.16L35.41 233.81L36.07 233.81L37.40 233.16L38.06 231.19L38.06 227.92L38.73 225.95L39.39 225.30M36.07 233.81L36.73 233.16L37.40 231.19L37.40 227.92L38.06 225.95L39.39 225.30L40.06 225.30L41.39 225.95L42.05 227.92L42.05 231.85L41.39 233.81L40.06 234.47L39.39 234.47L38.06 233.81L37.40 231.85M20.77 216.13L22.10 217.44L24.10 218.75L26.76 220.06L30.08 220.71L32.74 220.71L36.07 220.06L38.73 218.75L40.73 217.44L42.05 216.13M22.10 217.44L24.76 218.75L26.76 219.40L30.08 220.06L32.74 220.06L36.07 219.40L38.06 218.75L40.73 217.44M23.43 210.89L37.40 210.89M23.43 210.23L37.40 210.23M23.43 212.85L23.43 204.99L24.10 203.03L24.76 202.37L26.09 201.72L28.09 201.72L29.42 202.37L30.08 203.03L30.75 204.99L30.75 210.23M23.43 204.99L24.10 203.68L24.76 203.03L26.09 202.37L28.09 202.37L29.42 203.03L30.08 203.68L30.75 204.99M37.40 212.85L37.40 208.27M20.78 176.19L22.11 174.88L24.10 173.57L26.76 172.26L30.09 171.60L32.75 171.60L36.07 172.26L38.73 173.57L40.73 174.88L42.06 176.19M22.11 174.88L24.77 173.57L26.76 172.91L30.09 172.26L32.75 172.26L36.07 172.91L38.07 173.57L40.73 174.88M20.78 151.30L22.11 152.61L24.10 153.92L26.76 155.23L30.09 155.88L32.75 155.88L36.07 155.23L38.73 153.92L40.73 152.61L42.06 151.30M22.11 152.61L24.77 153.92L26.76 154.57L30.09 155.23L32.75 155.23L36.07 154.57L38.07 153.92L40.73 152.61M32.08 146.71L32.08 138.85L30.75 138.85L29.42 139.51L28.76 140.16L28.09 141.47L28.09 143.44L28.76 145.40L30.09 146.71L32.08 147.37L33.41 147.37L35.41 146.71L36.74 145.40L37.40 143.44L37.40 142.13L36.74 140.16L35.41 138.85M32.08 139.51L30.09 139.51L28.76 140.16M28.09 143.44L28.76 144.75L30.09 146.06L32.08 146.71L33.41 146.71L35.41 146.06L36.74 144.75L37.40 143.44M28.09 133.61L37.40 133.61M28.09 132.96L37.40 132.96M32.08 132.96L30.09 132.30L28.76 130.99L28.09 129.68L28.09 127.72L28.76 127.06L29.42 127.06L30.09 127.72L29.42 128.37L28.76 127.72M28.09 135.58L28.09 132.96M37.40 135.58L37.40 130.99M28.09 120.51L28.76 121.82L29.42 122.48L30.75 123.13L32.08 123.13L33.41 122.48L34.08 121.82L34.74 120.51L34.74 119.20L34.08 117.89L33.41 117.24L32.08 116.58L30.75 116.58L29.42 117.24L28.76 117.89L28.09 119.20L28.09 120.51M28.76 121.82L30.09 122.48L32.75 122.48L34.08 121.82M34.08 117.89L32.75 117.24L30.09 117.24L28.76 117.89M29.42 117.24L28.76 116.58L28.09 115.27L28.76 115.27L28.76 116.58M33.41 122.48L34.08 123.13L35.41 123.79L36.07 123.79L37.40 123.13L38.07 121.17L38.07 117.89L38.73 115.93L39.40 115.27M36.07 123.79L36.74 123.13L37.40 121.17L37.40 117.89L38.07 115.93L39.40 115.27L40.06 115.27L41.39 115.93L42.06 117.89L42.06 121.82L41.39 123.79L40.06 124.44L39.40 124.44L38.07 123.79L37.40 121.82M30.09 93L30.75 93.66L31.42 93L30.75 92.35L30.09 92.35L28.76 93.66L28.09 94.97L28.09 96.93L28.76 98.90L30.09 100.21L32.08 100.86L33.41 100.86L35.41 100.21L36.74 98.90L37.40 96.93L37.40 95.62L36.74 93.66L35.41 92.35M28.09 96.93L28.76 98.24L30.09 99.55L32.08 100.21L33.41 100.21L35.41 99.55L36.74 98.24L37.40 96.93M28.09 87.11L37.40 87.11M28.09 86.45L37.40 86.45M30.09 86.45L28.76 85.14L28.09 83.18L28.09 81.87L28.76 79.91L30.09 79.25L37.40 79.25M28.09 81.87L28.76 80.56L30.09 79.91L37.40 79.91M30.09 79.25L28.76 77.94L28.09 75.97L28.09 74.66L28.76 72.70L30.09 72.04L37.40 72.04M28.09 74.66L28.76 73.35L30.09 72.70L37.40 72.70M28.09 89.07L28.09 86.45M37.40 89.07L37.40 84.49M37.40 81.87L37.40 77.28M37.40 74.66L37.40 70.08M20.78 53L22.11 51.69L24.10 50.38L26.76 49.07L30.09 48.42L32.75 48.42L36.07 49.07L38.73 50.38L40.73 51.69L42.06 53M22.11 51.69L24.77 50.38L26.76 49.73L30.09 49.07L32.75 49.07L36.07 49.73L38.07 50.38L40.73 51.69" fill="none" stroke="#000" stroke-width="2.0" stroke-linecap="round" stroke-linejoin="round" shape-rendering="crispEdges"/>
<path d="M58.52 47.31L69.65 47.31M58.52 78.52L69.65 78.52M58.52 115.42L69.65 115.42M58.52 151.91L69.65 151.91M58.52 188.51L69.65 188.51M58.52 225.21L69.65 225.21M58.52 252.91L69.65 252.91M440.84 79.52L452.63 79.52M440.84 83.51L452.63 83.51M440.84 101.42L452.63 101.42M440.84 105.41L452.63 105.41M440.84 123.62L452.63 123.62M440.84 127.61L452.63 127.61M440.84 145.72L452.63 145.72M440.84 149.71L452.63 149.71" fill="none" stroke="#000" stroke-width="1.25" stroke-linecap="round" stroke-linejoin="round" shape-rendering="crispEdges"/>
<path d="M431.67 73.53L431.67 84.84L432.33 86.83L433.64 87.50L434.95 87.50L436.26 86.83L436.91 85.50M432.33 73.53L432.33 84.84L432.98 86.83L433.64 87.50M429.71 78.19L434.95 78.19M431.67 95.44L431.67 106.74L432.33 108.73L433.64 109.40L434.95 109.40L436.26 108.73L436.91 107.41M432.33 95.44L432.33 106.74L432.98 108.73L433.64 109.40M429.71 100.09L434.95 100.09M431.67 117.63L431.67 128.94L432.33 130.94L433.64 131.60L434.95 131.60L436.26 130.94L436.91 129.60M432.33 117.63L432.33 128.94L432.98 130.94L433.64 131.60M429.71 122.29L434.95 122.29M431.67 139.73L431.67 151.04L432.33 153.03L433.64 153.70L434.95 153.70L436.26 153.03L436.91 151.70M432.33 139.73L432.33 151.04L432.98 153.03L433.64 153.70M429.71 144.39L434.95 144.39" fill="none" stroke="#000" stroke-width="1.6" stroke-linecap="round" stroke-linejoin="round" shape-rendering="crispEdges"/>
<path d="M35.84 198.25L40.10 198.25M35.84 197.95L40.10 197.95M36.75 197.95L36.14 197.35L35.84 196.45L35.84 195.85L36.14 194.95L36.75 194.65L40.10 194.65M35.84 195.85L36.14 195.25L36.75 194.95L40.10 194.95M36.75 194.65L36.14 194.05L35.84 193.15L35.84 192.55L36.14 191.65L36.75 191.35L40.10 191.35M35.84 192.55L36.14 191.95L36.75 191.65L40.10 191.65M35.84 199.15L35.84 197.95M40.10 199.15L40.10 197.05M40.10 195.85L40.10 193.75M40.10 192.55L40.10 190.45M36.45 188.35L36.75 188.35L36.75 188.65L36.45 188.65L36.14 188.35L35.84 187.75L35.84 186.55L36.14 185.95L36.45 185.65L37.05 185.35L39.19 185.35L39.80 185.05L40.10 184.75M36.45 185.65L39.19 185.65L39.80 185.35L40.10 184.75L40.10 184.45M37.05 185.65L37.36 185.95L37.66 187.75L37.97 188.65L38.58 188.95L39.19 188.95L39.80 188.65L40.10 187.75L40.10 186.85L39.80 186.25L39.19 185.65M37.66 187.75L37.97 188.35L38.58 188.65L39.19 188.65L39.80 188.35L40.10 187.75M35.84 181.45L36.14 182.05L36.45 182.35L37.05 182.65L37.66 182.65L38.27 182.35L38.58 182.05L38.88 181.45L38.88 180.85L38.58 180.25L38.27 179.95L37.66 179.65L37.05 179.65L36.45 179.95L36.14 180.25L35.84 180.85L35.84 181.45M36.14 182.05L36.75 182.35L37.97 182.35L38.58 182.05M38.58 180.25L37.97 179.95L36.75 179.95L36.14 180.25M36.45 179.95L36.14 179.65L35.84 179.05L36.14 179.05L36.14 179.65M38.27 182.35L38.58 182.65L39.19 182.95L39.49 182.95L40.10 182.65L40.40 181.75L40.40 180.25L40.71 179.35L41.01 179.05M39.49 182.95L39.80 182.65L40.10 181.75L40.10 180.25L40.40 179.35L41.01 179.05L41.32 179.05L41.93 179.35L42.23 180.25L42.23 182.05L41.93 182.95L41.32 183.25L41.01 183.25L40.40 182.95L40.10 182.05M24.26 67.81L24.26 62.71M21.82 59.77L22.13 59.47L22.43 59.77L22.13 60.07L21.82 60.07L21.21 59.77L20.91 59.47L20.60 58.57L20.60 57.37L20.91 56.47L21.52 56.17L22.43 56.17L23.04 56.47L23.35 57.37L23.35 58.27M20.60 57.37L20.91 56.77L21.52 56.47L22.43 56.47L23.04 56.77L23.35 57.37M23.35 57.37L23.65 56.77L24.26 56.17L24.87 55.87L25.78 55.87L26.39 56.17L26.70 56.47L27 57.37L27 58.57L26.70 59.47L26.39 59.77L25.78 60.07L25.48 60.07L25.17 59.77L25.48 59.47L25.78 59.77M23.95 56.47L24.87 56.17L25.78 56.17L26.39 56.47L26.70 56.77L27 57.37" fill="none" stroke="#000" stroke-width="1.4" stroke-linecap="round" stroke-linejoin="round" shape-rendering="crispEdges"/>
<path d="M273.47 16.70L273.47 27.90M274.29 16.70L274.29 27.90M274.29 21.50L275.11 19.10L276.76 17.50L278.40 16.70L280.87 16.70L281.69 17.50L281.69 18.30L280.87 19.10L280.05 18.30L280.87 17.50M271 16.70L274.29 16.70M271 27.90L276.76 27.90M287.44 16.70L287.44 25.50L288.27 27.10L290.73 27.90L292.38 27.90L294.84 27.10L296.49 25.50M288.27 16.70L288.27 25.50L289.09 27.10L290.73 27.90M296.49 16.70L296.49 27.90M297.31 16.70L297.31 27.90M284.98 16.70L288.27 16.70M294.02 16.70L297.31 16.70M296.49 27.90L299.77 27.90M305.53 16.70L305.53 27.90M306.35 16.70L306.35 27.90M306.35 19.10L307.99 17.50L310.46 16.70L312.10 16.70L314.57 17.50L315.39 19.10L315.39 27.90M312.10 16.70L313.75 17.50L314.57 19.10L314.57 27.90M303.06 16.70L306.35 16.70M303.06 27.90L308.82 27.90M312.10 27.90L317.86 27.90M336.76 11.10L336.76 27.90M337.59 11.10L347.45 26.30M337.59 12.70L347.45 27.90M347.45 11.10L347.45 27.90M334.30 11.10L337.59 11.10M344.98 11.10L349.92 11.10M334.30 27.90L339.23 27.90M355.67 11.10L355.67 27.90M356.49 11.10L356.49 27.90M361.42 15.90L361.42 22.30M353.20 11.10L366.36 11.10L366.36 15.90L365.53 11.10M356.49 19.10L361.42 19.10M353.20 27.90L358.96 27.90M372.93 14.30L374.58 13.50L377.04 11.10L377.04 27.90M376.22 11.90L376.22 27.90M372.93 27.90L380.33 27.90" fill="none" stroke="#000" stroke-width="1.4" stroke-linecap="round" stroke-linejoin="round" shape-rendering="crispEdges"/>
</svg>
</body></html>
